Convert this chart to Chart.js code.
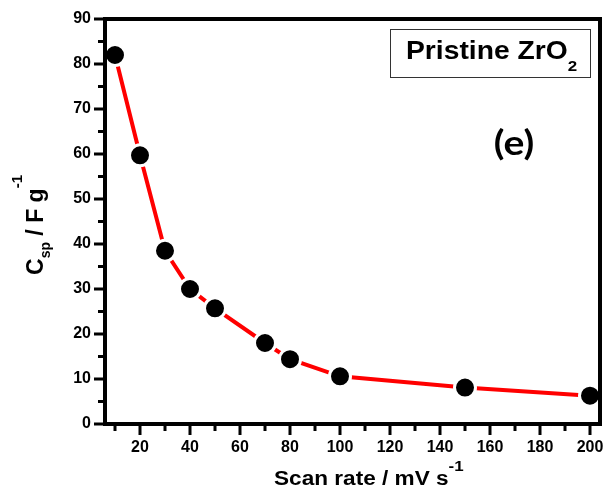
<!DOCTYPE html>
<html>
<head>
<meta charset="utf-8">
<title>Pristine ZrO2 - specific capacitance vs scan rate</title>
<script src="https://cdn.jsdelivr.net/npm/chart.js@4.4.1/dist/chart.umd.min.js"></script>
<style>
html, body { margin: 0; padding: 0; background: #fff; }
canvas { display: block; }
</style>
</head>
<body>
<canvas id="cspChart" width="604" height="494"></canvas>
<script>
// scan rate (mV/s) vs specific capacitance (F/g)
const scanRates = [10, 20, 30, 40, 50, 70, 80, 100, 150, 200];
const capacitance = [82, 59.7, 38.5, 30, 25.7, 18, 14.4, 10.6, 8.1, 6.3];

const xTickValues = [20, 40, 60, 80, 100, 120, 140, 160, 180, 200];
const xMinorTicks = [10, 30, 50, 70, 90, 110, 130, 150, 170, 190];
const yTickValues = [0, 10, 20, 30, 40, 50, 60, 70, 80, 90];
const yMinorTicks = [5, 15, 25, 35, 45, 55, 65, 75, 85];

const FONT = '"Liberation Sans", Arial, sans-serif';

// draw a run of text pieces (sub/superscripts) one after another
function drawRun(ctx, parts) {
    let x = 0;
    parts.forEach(p => {
        ctx.font = "bold " + p.size + "px " + p.family;
        ctx.fillText(p.text, x, p.dy || 0);
        x += ctx.measureText(p.text).width;
    });
    return x;
}

function runWidth(ctx, parts) {
    let w = 0;
    parts.forEach(p => {
        ctx.font = "bold " + p.size + "px " + p.family;
        w += ctx.measureText(p.text).width;
    });
    return w;
}

// -----------------------------
// frame, ticks, titles, labels
// -----------------------------
const decorations = {
    id: "decorations",
    afterDraw(chart) {
        const ctx = chart.ctx;
        const area = chart.chartArea;
        const xs = chart.scales.x;
        const ys = chart.scales.y;

        ctx.save();
        ctx.strokeStyle = "#000";
        ctx.fillStyle = "#000";

        // tick marks
        ctx.lineWidth = 3;
        ctx.beginPath();
        xTickValues.forEach(v => {
            const px = xs.getPixelForValue(v);
            ctx.moveTo(px, area.bottom);
            ctx.lineTo(px, area.bottom + 11);
        });
        xMinorTicks.forEach(v => {
            const px = xs.getPixelForValue(v);
            ctx.moveTo(px, area.bottom);
            ctx.lineTo(px, area.bottom + 7);
        });
        yTickValues.forEach(v => {
            const py = ys.getPixelForValue(v);
            ctx.moveTo(area.left, py);
            ctx.lineTo(area.left - 11, py);
        });
        yMinorTicks.forEach(v => {
            const py = ys.getPixelForValue(v);
            ctx.moveTo(area.left, py);
            ctx.lineTo(area.left - 7, py);
        });
        ctx.stroke();

        // box around the plot
        ctx.lineWidth = 4;
        ctx.strokeRect(area.left, area.top, area.right - area.left, area.bottom - area.top);

        ctx.textBaseline = "alphabetic";
        ctx.textAlign = "left";

        // x axis title
        ctx.save();
        ctx.translate(274, 485);
        ctx.scale(1.13, 1);
        drawRun(ctx, [
            { text: "Scan rate / mV s", size: 20, family: FONT },
            { text: "-1", size: 15, family: FONT, dy: -14 }
        ]);
        ctx.restore();

        // y axis title
        const yParts = [
            { text: "C", size: 23, family: FONT },
            { text: "sp", size: 14, family: FONT, dy: 7 },
            { text: " / F g", size: 23, family: FONT },
            { text: "-1", size: 15, family: FONT, dy: -21 }
        ];
        ctx.save();
        ctx.translate(43, 225);
        ctx.rotate(-Math.PI / 2);
        ctx.translate(-runWidth(ctx, yParts) / 2, 0);
        drawRun(ctx, yParts);
        ctx.restore();

        // sample label box
        ctx.lineWidth = 1;
        ctx.strokeStyle = "#333";
        ctx.strokeRect(390.5, 29.5, 200, 48);
        ctx.save();
        ctx.translate(406, 59);
        ctx.scale(1.13, 1);
        drawRun(ctx, [
            { text: "Pristine ZrO", size: 25, family: FONT },
            { text: "2", size: 15, family: FONT, dy: 12 }
        ]);
        ctx.restore();

        // panel letter
        ctx.save();
        ctx.translate(514, 155);
        ctx.scale(1.15, 1);
        ctx.textAlign = "center";
        ctx.font = "bold 34px Lato, \"Open Sans\", sans-serif";
        ctx.fillText("(e)", 0, 0);
        ctx.restore();

        ctx.restore();
    }
};

new Chart(document.getElementById("cspChart"), {

type: "line",

data: {
datasets: [{
data: scanRates.map((x, i) => ({ x: x, y: capacitance[i] })),
borderColor: "#ff0000",
borderWidth: 4,
tension: 0,
pointRadius: 10.5,
pointHoverRadius: 10.5,
pointBackgroundColor: "#000",
pointBorderColor: "#fff",
pointBorderWidth: 3,
clip: false
}]
},

options: {
responsive: false,
animation: false,
events: [],
layout: {
autoPadding: false,
padding: { top: 19, right: 4, left: 0, bottom: 0 }
},
plugins: {
legend: { display: false },
tooltip: { enabled: false }
},
scales: {
x: {
type: "linear",
min: 6,
max: 204,
afterBuildTicks: s => { s.ticks = xTickValues.map(v => ({ value: v })); },
afterFit: s => {
s.height = 70;
s.paddingLeft = 0;
s.paddingRight = 0;
},
grid: { display: false, drawTicks: false },
border: { display: false },
ticks: {
padding: 14,
maxRotation: 0,
autoSkip: false,
color: "#000",
font: { family: FONT, size: 16, weight: "bold" }
}
},
y: {
min: 0,
max: 90,
afterBuildTicks: s => { s.ticks = yTickValues.map(v => ({ value: v })); },
afterFit: s => {
s.width = 105;
s.paddingTop = 0;
s.paddingBottom = 0;
},
grid: { display: false, drawTicks: false },
border: { display: false },
ticks: {
padding: 14,
autoSkip: false,
color: "#000",
font: { family: FONT, size: 16, weight: "bold" }
}
}
}
},

plugins: [decorations]

});
</script>
</body>
</html>
